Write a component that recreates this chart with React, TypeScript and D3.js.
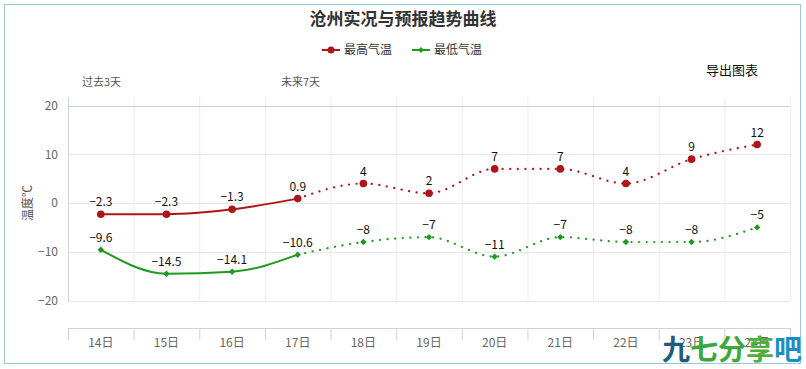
import * as d3 from 'd3';
import React, { FC, useEffect } from 'react';

const days = ['14日', '15日', '16日', '17日', '18日', '19日', '20日', '21日', '22日', '23日', '24日'];
const highTemps = [-2.3, -2.3, -1.3, 0.9, 4, 2, 7, 7, 4, 9, 12];
const lowTemps = [-9.6, -14.5, -14.1, -10.6, -8, -7, -11, -7, -8, -8, -5];
const yTicks = [-20, -10, 0, 10, 20];
const liveCount = 4; // 14-17 are observed, the rest forecast

const RED = '#ad1519';
const GREEN = '#1f991f';
const FONT = '"Noto Sans CJK SC", "Noto Sans", sans-serif';

const App: FC = () => {
	const containerDiv = React.useRef<HTMLDivElement>(null);
	const { height, width } = { height: 369, width: 806 };

	const initializeChart = () => {
		const x: any = d3.scaleBand().domain(days).range([68, 790]);
		const y: any = d3.scaleLinear().domain([-20, 20]).range([300.5, 105.5]);
		const cx = (d: string) => x(d) + x.bandwidth() / 2;
		const plotTop = 97;
		const axisY = 328;

		const svg = d3
			.create('svg')
			.attr('width', width)
			.attr('height', height)
			.attr('viewBox', `0, 0, ${width}, ${height}`)
			.style('display', 'block')
			.style('font-family', FONT);

		svg.append('rect')
			.attr('x', 4.5)
			.attr('y', 4.5)
			.attr('width', 796)
			.attr('height', 359)
			.attr('fill', '#fff')
			.attr('stroke', '#9cc6de');

		// title + legend
		svg.append('text')
			.attr('x', 403)
			.attr('y', 25)
			.attr('text-anchor', 'middle')
			.attr('font-size', 17)
			.attr('font-weight', 'bold')
			.attr('fill', '#333')
			.text('沧州实况与预报趋势曲线');

		const legend = [
			{ name: '最高气温', color: RED, x: 322 },
			{ name: '最低气温', color: GREEN, x: 412 },
		];
		legend.forEach((l, i) => {
			const g = svg.append('g').attr('transform', `translate(${l.x},50)`);
			g.append('line').attr('x1', 0).attr('x2', 18).attr('stroke', l.color).attr('stroke-width', 2);
			if (i === 0) g.append('circle').attr('cx', 9).attr('r', 3.5).attr('fill', l.color);
			else g.append('path').attr('d', 'M9,-3L12,0L9,3L6,0Z').attr('fill', l.color);
			g.append('text').attr('x', 22).attr('y', 4).attr('font-size', 12).attr('fill', '#333').text(l.name);
		});

		svg.append('text').attr('x', 706).attr('y', 75).attr('font-size', 13).attr('fill', '#111').text('导出图表');
		svg.append('text').attr('x', 82).attr('y', 86).attr('font-size', 11).attr('fill', '#555').text('过去3天');
		svg.append('text').attr('x', 281).attr('y', 86).attr('font-size', 11).attr('fill', '#555').text('未来7天');

		// grid
		const bounds = d3.range(days.length + 1).map(i => 68 + i * x.step());
		svg.append('g')
			.selectAll('line')
			.data(bounds)
			.join('line')
			.attr('x1', d => d + 0.5)
			.attr('x2', d => d + 0.5)
			.attr('y1', plotTop)
			.attr('y2', 301)
			.attr('stroke', '#ececec');
		svg.append('g')
			.selectAll('line')
			.data(yTicks)
			.join('line')
			.attr('x1', 68)
			.attr('x2', 790)
			.attr('y1', (d: number) => Math.round(y(d)) + 0.5)
			.attr('y2', (d: number) => Math.round(y(d)) + 0.5)
			.attr('stroke', (d: number) => (d === 20 ? '#c8d0dc' : '#e6e6e6'));
		svg.append('line')
			.attr('x1', 68.5).attr('x2', 68.5).attr('y1', plotTop).attr('y2', 301)
			.attr('stroke', '#ccd3dd');

		// y axis
		const yAxis = (g: any) =>
			g
				.attr('transform', 'translate(68,0)')
				.call(d3.axisLeft(y).tickValues(yTicks).tickSize(0).tickPadding(10))
				.call((g: any) => g.select('.domain').remove())
				.call((g: any) => g.selectAll('text').attr('font-size', 12).attr('fill', '#666').attr('font-family', FONT));
		svg.append('g').call(yAxis);
		svg.append('text')
			.attr('transform', 'translate(32,203) rotate(-90)')
			.attr('text-anchor', 'middle')
			.attr('font-size', 12)
			.attr('fill', '#555')
			.text('温度℃');

		// x axis
		svg.append('line').attr('x1', 68).attr('x2', 790).attr('y1', axisY + 0.5).attr('y2', axisY + 0.5).attr('stroke', '#ccd3dd');
		svg.append('g')
			.selectAll('line')
			.data(bounds)
			.join('line')
			.attr('x1', d => d + 0.5)
			.attr('x2', d => d + 0.5)
			.attr('y1', axisY)
			.attr('y2', axisY + 12)
			.attr('stroke', '#ccd3dd');
		svg.append('g')
			.selectAll('text')
			.data(days)
			.join('text')
			.attr('x', d => cx(d))
			.attr('y', 347)
			.attr('text-anchor', 'middle')
			.attr('font-size', 12)
			.attr('fill', '#666')
			.text(d => d);

		// series
		const fmt = (v: number) => String(v).replace('-', '\u2212');
		const series = [
			{ values: highTemps, color: RED, marker: 'circle' },
			{ values: lowTemps, color: GREEN, marker: 'diamond' },
		];
		series.forEach(s => {
			const pts = s.values.map((v, i) => [cx(days[i]), y(v)] as [number, number]);
			const line = d3.line().curve(d3.curveMonotoneX);
			svg.append('path')
				.attr('d', line(pts.slice(0, liveCount)))
				.attr('fill', 'none')
				.attr('stroke', s.color)
				.attr('stroke-width', 2);
			svg.append('path')
				.attr('d', line(pts.slice(liveCount - 1)))
				.attr('fill', 'none')
				.attr('stroke', s.color)
				.attr('stroke-width', 2.2)
				.attr('stroke-linecap', 'round')
				.attr('stroke-dasharray', '0.1,7.5');
			const g = svg.append('g');
			pts.forEach(p => {
				if (s.marker === 'circle') g.append('circle').attr('cx', p[0]).attr('cy', p[1]).attr('r', 3.8).attr('fill', s.color);
				else
					g.append('path')
						.attr('d', `M${p[0]},${p[1] - 3.2}L${p[0] + 3.2},${p[1]}L${p[0]},${p[1] + 3.2}L${p[0] - 3.2},${p[1]}Z`)
						.attr('fill', s.color);
			});
			svg.append('g')
				.selectAll('text')
				.data(s.values)
				.join('text')
				.attr('x', (d, i) => cx(days[i]))
				.attr('y', (d: number) => y(d) - 8)
				.attr('text-anchor', 'middle')
				.attr('font-size', 12)
				.attr('fill', '#111')
				.attr('stroke', '#fff')
				.attr('stroke-width', 2)
				.attr('paint-order', 'stroke')
				.text((d: number) => fmt(d));
		});

		// watermark sitting in the corner of the picture
		const wm = [
			{ t: '九', c: '#1d5e7e' },
			{ t: '七', c: '#3aa83a' },
			{ t: '分', c: '#3aa83a' },
			{ t: '享', c: '#4fae3c' },
			{ t: '吧', c: '#1b8fc4' },
		];
		const wg = svg.append('g').attr('font-size', 28).attr('font-weight', 'bold');
		wm.forEach((w, i) => {
			wg.append('text').attr('x', 662 + i * 28).attr('y', 360).attr('fill', w.c).text(w.t);
		});

		return svg.node();
	};

	useEffect(() => {
		const chart = initializeChart();
		const container: HTMLDivElement = containerDiv.current as HTMLDivElement;
		if (container && chart) {
			container.firstChild && container.removeChild(container.firstChild);
			container.appendChild(chart);
		}
	}, []);

	return <div ref={containerDiv} style={{ position: 'absolute', left: 0, top: 0 }}></div>;
};

export default App;
